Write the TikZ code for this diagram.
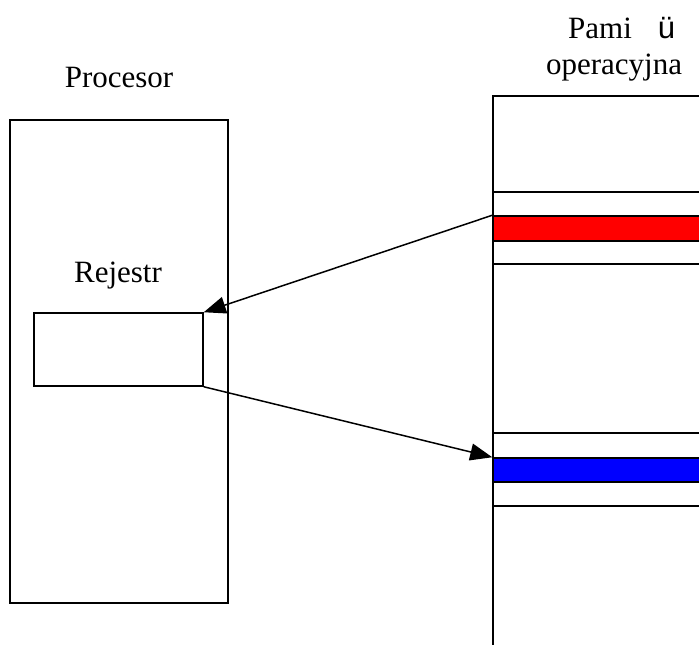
\documentclass[tikz,border=0pt]{standalone}
\usepackage{fontspec}
\setmainfont{Liberation Serif}
\newfontfamily\sansfnt{Liberation Sans}
\usetikzlibrary{arrows.meta}
\tikzset{
  box/.style={draw=black, line width=1.5pt, fill=white, inner sep=0pt, rectangle},
  lbl/.style={inner sep=0pt, anchor=base, font=\fontsize{31}{37}\selectfont},
  conn/.style={draw=black, line width=1.5pt, -{Triangle[length=22pt,width=17pt]}}
}
\begin{document}
\begin{tikzpicture}[x=1pt,y=-1pt]
\useasboundingbox (0,0) rectangle (699,645);
\clip (0,0) rectangle (699,645);
% processor
\node[box, minimum width=218pt, minimum height=483pt] (proc) at (119,361.5) {};
\node[lbl] (proclbl) at (119,87) {Procesor};
\node[lbl] (reglbl) at (118,282) {Rejestr};
\node[box, minimum width=169pt, minimum height=73pt] (reg) at (118.5,349.5) {};
% memory
\node[box, minimum width=230pt, minimum height=580pt] (mem) at (608,386) {};
\node[lbl, anchor=base west] (memlbl1) at (568,38) {Pami\hspace{26pt}{\sansfnt ü}};
\node[lbl] (memlbl2) at (614,74) {operacyjna};
\node[box, minimum width=230pt, minimum height=72pt] (slotA) at (608,228) {};
\node[box, fill=red, minimum width=230pt, minimum height=25pt] (red) at (608,228.5) {};
\node[box, minimum width=230pt, minimum height=73pt] (slotB) at (608,469.5) {};
\node[box, fill=blue, minimum width=230pt, minimum height=24pt] (blue) at (608,470) {};
% connectors
\draw[conn] (red.north west) -- (reg.north east);
\draw[conn] (reg.south east) -- (blue.north west);
\end{tikzpicture}
\end{document}
